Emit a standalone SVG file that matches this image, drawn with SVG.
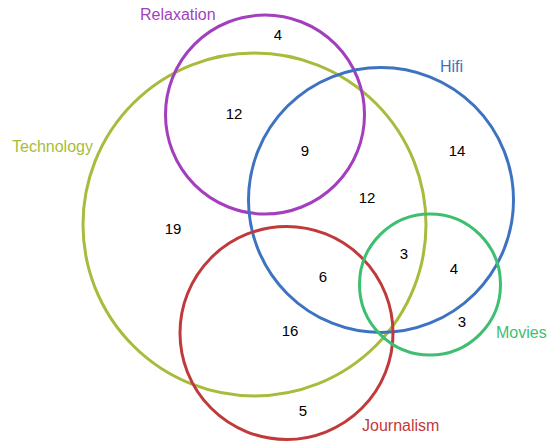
<svg xmlns="http://www.w3.org/2000/svg" width="552" height="445" viewBox="0 0 552 445">
  <style>
    .set { fill: none; stroke-width: 3; }
    .label { font-family: "Liberation Sans", Arial, sans-serif; font-size: 16px; }
    .count { font-family: "Liberation Sans", Arial, sans-serif; font-size: 15px; fill: #000; text-anchor: middle; }
  </style>
  <rect width="552" height="445" fill="#ffffff"/>
  <g id="technology">
    <circle class="set" cx="254.5" cy="224.5" r="171.5" stroke="#a9bb3c"/>
    <text class="label" x="12" y="152" fill="#a9bb3c">Technology</text>
  </g>
  <g id="relaxation">
    <circle class="set" cx="265" cy="114.5" r="99.5" stroke="#a33fbf"/>
    <text class="label" x="140" y="20" fill="#a33fbf">Relaxation</text>
  </g>
  <g id="hifi">
    <circle class="set" cx="381" cy="200" r="132.5" stroke="#3d73c0"/>
    <text class="label" x="440" y="72" fill="#3d73c0">Hifi</text>
  </g>
  <g id="journalism">
    <circle class="set" cx="286.5" cy="333" r="106.5" stroke="#c03a3c"/>
    <text class="label" x="362" y="431" fill="#c03a3c">Journalism</text>
  </g>
  <g id="movies">
    <circle class="set" cx="430" cy="284.5" r="70.5" stroke="#3dbf70"/>
    <text class="label" x="496" y="338" fill="#3dbf70">Movies</text>
  </g>
  <g id="counts">
    <text class="count" x="278" y="40">4</text>
    <text class="count" x="234" y="119">12</text>
    <text class="count" x="305" y="156">9</text>
    <text class="count" x="457" y="156">14</text>
    <text class="count" x="367" y="203">12</text>
    <text class="count" x="173" y="234">19</text>
    <text class="count" x="404" y="259">3</text>
    <text class="count" x="454" y="274">4</text>
    <text class="count" x="323" y="282">6</text>
    <text class="count" x="290" y="336">16</text>
    <text class="count" x="462" y="327">3</text>
    <text class="count" x="303" y="416">5</text>
  </g>
</svg>
